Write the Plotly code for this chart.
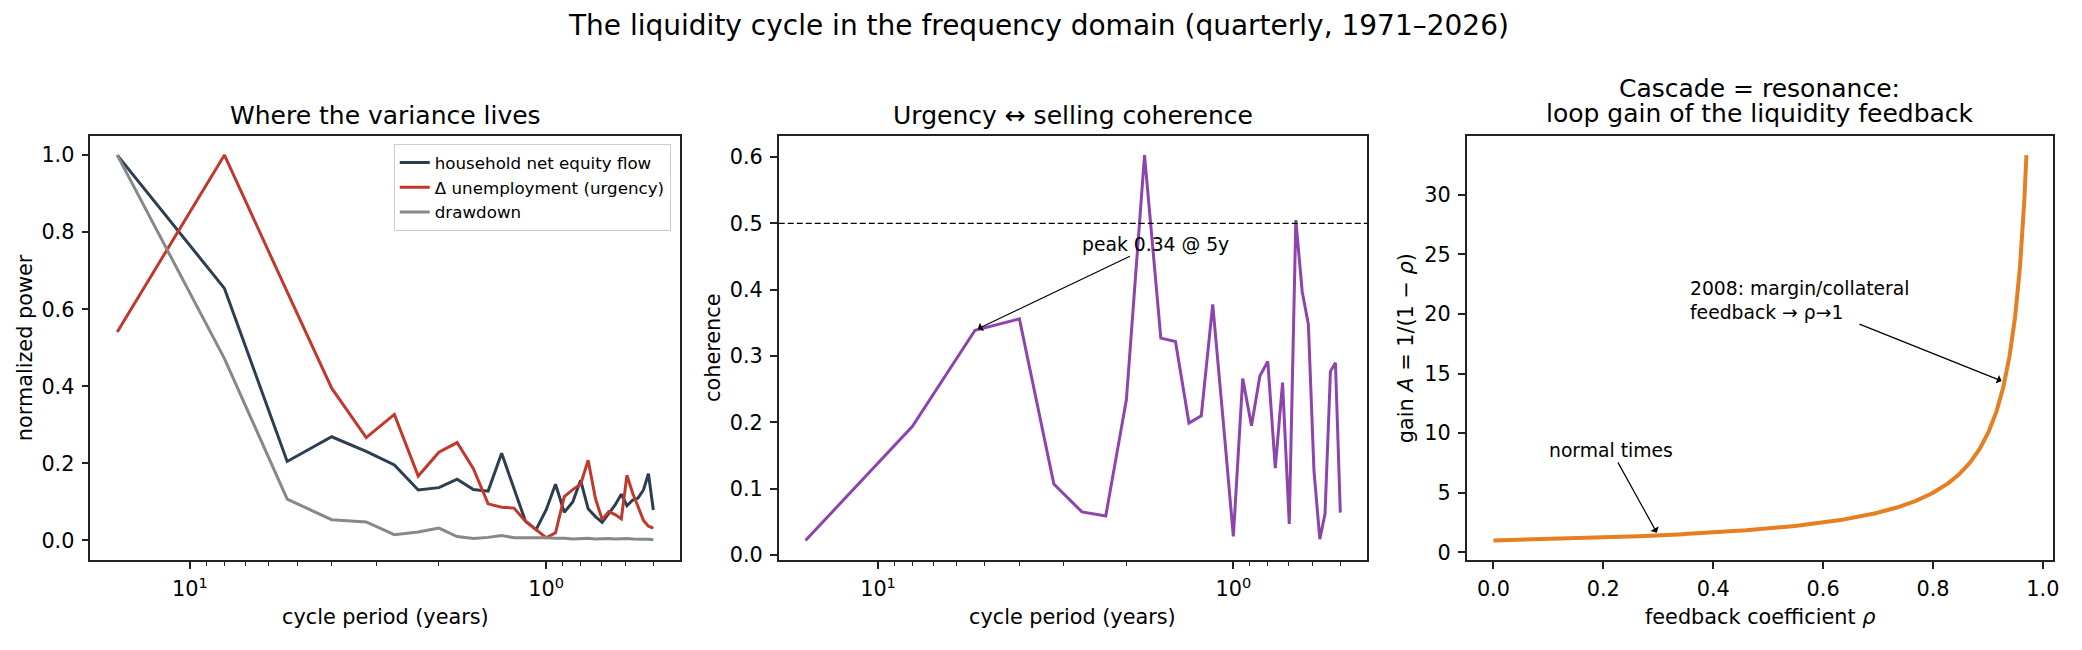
import numpy as np
import plotly.graph_objects as go

# ---------------- data ----------------
# cycle period in years (Welch segments of 64 quarters: 16 y ... 0.5 y)
periods = [16.0, 8.0, 5.333, 4.0, 3.2, 2.667, 2.286, 2.0, 1.778, 1.6, 1.455, 1.333,
           1.231, 1.143, 1.067, 1.0, 0.941, 0.889, 0.842, 0.8, 0.762, 0.727, 0.696,
           0.667, 0.64, 0.615, 0.593, 0.571, 0.552, 0.533, 0.516, 0.5]

household_power = [1.0, 0.654, 0.205, 0.269, 0.231, 0.196, 0.131, 0.137, 0.159, 0.132,
                   0.128, 0.226, 0.135, 0.05, 0.028, 0.079, 0.146, 0.073, 0.10, 0.156,
                   0.082, 0.062, 0.047, 0.071, 0.092, 0.12, 0.09, 0.105, 0.11, 0.131,
                   0.173, 0.079]
unemployment_power = [0.541, 1.0, 0.645, 0.395, 0.267, 0.327, 0.167, 0.229, 0.254, 0.186,
                      0.095, 0.086, 0.084, 0.05, 0.028, 0.007, 0.02, 0.114, 0.132, 0.146,
                      0.208, 0.109, 0.054, 0.075, 0.067, 0.056, 0.169, 0.122, 0.088, 0.052,
                      0.037, 0.032]
drawdown_power = [1.0, 0.472, 0.107, 0.054, 0.048, 0.015, 0.022, 0.032, 0.01, 0.005,
                  0.008, 0.013, 0.007, 0.007, 0.008, 0.007, 0.006, 0.006, 0.004, 0.005,
                  0.006, 0.004, 0.005, 0.005, 0.004, 0.005, 0.005, 0.004, 0.003, 0.003,
                  0.003, 0.002]
coherence = [0.022, 0.194, 0.339, 0.356, 0.107, 0.065, 0.059, 0.234, 0.603, 0.327,
             0.322, 0.199, 0.21, 0.378, 0.2, 0.028, 0.266, 0.195, 0.27, 0.292,
             0.131, 0.26, 0.047, 0.505, 0.397, 0.348, 0.127, 0.024, 0.062, 0.277,
             0.29, 0.064]
coherence_threshold = 0.5
peak_period, peak_coh = 5.333, 0.339

# loop gain curve: A = 1/(1 - rho), the function named on the axis
rho = np.linspace(0.0, 0.97, 1200)
gain = 1.0 / (1.0 - rho)
rho_normal, rho_2008 = 0.30, 0.93

series_names = ["household net equity flow", "Δ unemployment (urgency)", "drawdown"]
series_colors = ["#2c3e50", "#c0392b", "#888888"]

# ---------------- figure ----------------
W, H = 2082, 650
FONT = "DejaVu Sans"
fig = go.Figure()

for name, vals, col in zip(series_names,
                           [household_power, unemployment_power, drawdown_power],
                           series_colors):
    fig.add_trace(go.Scatter(x=periods, y=vals, mode="lines", name=name,
                             line=dict(color=col, width=3), xaxis="x", yaxis="y"))

fig.add_trace(go.Scatter(x=periods, y=coherence, mode="lines", showlegend=False,
                         line=dict(color="#8e44ad", width=3), xaxis="x2", yaxis="y2"))

fig.add_trace(go.Scatter(x=rho, y=gain, mode="lines", showlegend=False,
                         line=dict(color="#e67e22", width=4), xaxis="x3", yaxis="y3"))

def px_x(p):
    return p / W

def px_y(p):
    return 1 - p / H

ydom = [px_y(566.7), px_y(137.5)]
dom1 = [px_x(90.7), px_x(682.1)]
dom2 = [px_x(781.0), px_x(1371.0)]
dom3 = [px_x(1471.0), px_x(2059.0)]

ax_common = dict(showline=True, mirror=True, linecolor="#222222", linewidth=1.6,
                 ticks="outside", ticklen=7, tickwidth=1.6, tickcolor="#222222",
                 tickfont=dict(family=FONT, size=20.8, color="black"),
                 showgrid=False, zeroline=False, ticklabelstandoff=3)

log_lo, log_hi = np.log10(min(periods)), np.log10(max(periods))
pad = 0.05 * (log_hi - log_lo)
log_range = [log_hi + pad, log_lo - pad]   # reversed: long periods on the left
minor_vals = [2, 3, 4, 5, 6, 7, 8, 9, 0.5, 0.6, 0.7, 0.8, 0.9]
logx = dict(type="log", range=log_range, tickvals=[10, 1],
            ticktext=["10<sup>1</sup>", "10<sup>0</sup>"],
            minor=dict(tickvals=minor_vals, ticks="outside", ticklen=4.2,
                       tickwidth=1.2, tickcolor="#222222", showgrid=False))

c_lo, c_hi = min(coherence), max(coherence)
c_pad = 0.05 * (c_hi - c_lo)
g_lo, g_hi = float(gain.min()), float(gain.max())
g_pad = 0.05 * (g_hi - g_lo)

fig.update_layout(
    width=W, height=H, autosize=False,
    margin=dict(l=0, r=0, t=0, b=0),
    paper_bgcolor="white", plot_bgcolor="white",
    font=dict(family=FONT, color="black"),
    xaxis=dict(domain=dom1, anchor="y", **logx, **ax_common),
    yaxis=dict(domain=ydom, anchor="x", range=[-0.05, 1.05],
               tickvals=[0, 0.2, 0.4, 0.6, 0.8, 1.0], tickformat=".1f", **ax_common),
    xaxis2=dict(domain=dom2, anchor="y2", **logx, **ax_common),
    yaxis2=dict(domain=ydom, anchor="x2", range=[c_lo - c_pad, c_hi + c_pad],
                tickvals=[0, 0.1, 0.2, 0.3, 0.4, 0.5, 0.6], tickformat=".1f", **ax_common),
    xaxis3=dict(domain=dom3, anchor="y3", range=[-0.0485, 1.0185],
                tickvals=[0, 0.2, 0.4, 0.6, 0.8, 1.0], tickformat=".1f", **ax_common),
    yaxis3=dict(domain=ydom, anchor="x3", range=[g_lo - g_pad, g_hi + g_pad],
                tickvals=[0, 5, 10, 15, 20, 25, 30], **ax_common),
    showlegend=True,
    legend=dict(x=px_x(672.7), y=px_y(146), xanchor="right", yanchor="top",
                bgcolor="rgba(255,255,255,0.8)", bordercolor="#cccccc", borderwidth=1,
                font=dict(family=FONT, size=16.7, color="black"),
                tracegroupgap=0, itemwidth=30),
)

# dashed threshold line in coherence panel
fig.add_shape(type="line", xref="x2 domain", yref="y2", x0=0, x1=1,
              y0=coherence_threshold, y1=coherence_threshold,
              line=dict(color="black", width=1.1, dash="6px,3px"))

ann = []
def text_ann(text, x, y, size, xanchor="center", yanchor="middle", angle=0,
             xref="paper", yref="paper"):
    ann.append(dict(text=text, x=x, y=y, xref=xref, yref=yref, showarrow=False,
                    xanchor=xanchor, yanchor=yanchor, textangle=angle,
                    font=dict(family=FONT, size=size, color="black")))

# titles
text_ann("The liquidity cycle in the frequency domain (quarterly, 1971–2026)",
         0.5, px_y(25.5), 28)
text_ann("Where the variance lives", (dom1[0] + dom1[1]) / 2, px_y(117.4), 25)
text_ann("Urgency ↔ selling coherence", (dom2[0] + dom2[1]) / 2, px_y(117.4), 25)
text_ann("Cascade = resonance:", (dom3[0] + dom3[1]) / 2, px_y(89.6), 25)
text_ann("loop gain of the liquidity feedback", (dom3[0] + dom3[1]) / 2, px_y(114.6), 25)

# axis titles
text_ann("cycle period (years)", (dom1[0] + dom1[1]) / 2, px_y(624.2), 20.8)
text_ann("cycle period (years)", (dom2[0] + dom2[1]) / 2, px_y(624.2), 20.8)
text_ann("feedback coefficient <i>ρ</i>", (dom3[0] + dom3[1]) / 2, px_y(624.2), 20.8)
ymid = (ydom[0] + ydom[1]) / 2
text_ann("normalized power", px_x(24.5), ymid, 20.8, angle=-90)
text_ann("coherence", px_x(715.2), ymid, 20.8, angle=-90)
text_ann("gain <i>A</i> = 1/(1 − <i>ρ</i>)", px_x(1409.5), ymid, 20.8, angle=-90)

# annotations with arrows (text box centred at the arrow tail, offsets in px)
def arrow_text(text, x, y, ax, ay, xref, yref):
    ann.append(dict(text=text, x=x, y=y, xref=xref, yref=yref, ax=ax, ay=ay,
                    axref="pixel", ayref="pixel", showarrow=True, arrowhead=1,
                    arrowsize=1.3, arrowwidth=1.2, arrowcolor="black", standoff=3,
                    align="left", font=dict(family=FONT, size=18.75, color="black")))

arrow_text(f"peak {peak_coh:.2f} @ 5y", np.log10(peak_period), peak_coh, 180, -86, "x2", "y2")
arrow_text("normal times", rho_normal, 1 / (1 - rho_normal), -47, -85, "x3", "y3")
arrow_text("2008: margin/collateral<br>feedback → ρ→1", rho_2008, 1 / (1 - rho_2008),
           -205, -82, "x3", "y3")

fig.update_layout(annotations=ann)
fig.write_html("out.html")
